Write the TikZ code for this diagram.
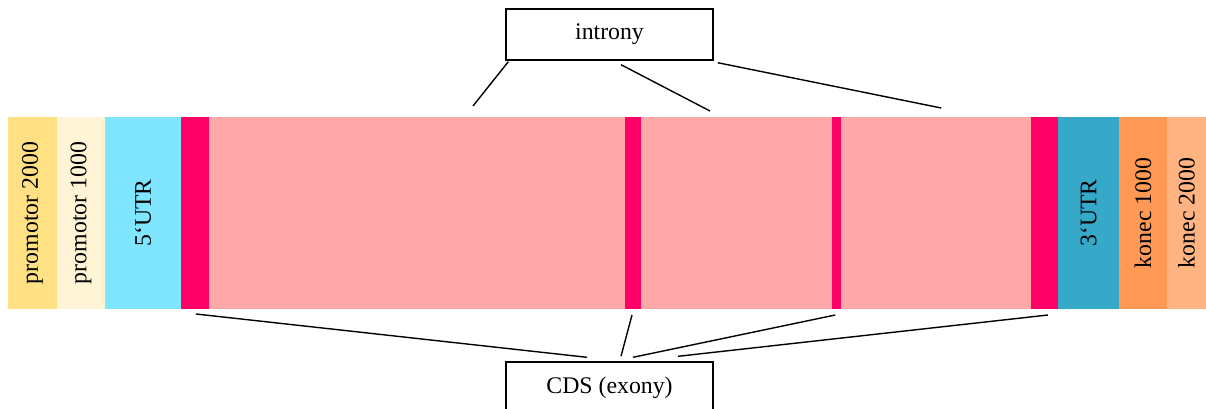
\documentclass[tikz,border=0pt]{standalone}
\usepackage{graphicx}
\usepackage{fontspec}
\setmainfont{Liberation Serif}
\definecolor{promA}{HTML}{FFE082}
\definecolor{promB}{HTML}{FFF5D6}
\definecolor{utrA}{HTML}{80E5FF}
\definecolor{exonc}{HTML}{FF0066}
\definecolor{intronc}{HTML}{FFA8AA}
\definecolor{utrB}{HTML}{37A9C8}
\definecolor{konA}{HTML}{FF9955}
\definecolor{konB}{HTML}{FFB380}
\begin{document}
\begin{tikzpicture}[x=1pt,y=-1pt,
  seg/.style={rectangle, inner sep=0pt, outer sep=0pt, minimum height=192pt, anchor=west, font=\fontsize{23.8}{28}\selectfont},
  labbox/.style={rectangle, draw=black, fill=white, line width=1.4pt, inner sep=0pt, minimum width=207pt, minimum height=51pt, font=\fontsize{23.8}{28}\selectfont},
  conn/.style={draw=black, line width=1.4pt}]
\useasboundingbox (0,0) rectangle (1206,409);
\node[seg, fill=promA, minimum width=49pt] (p2) at (8,213) {\rotatebox{90}{promotor 2000}};
\node[seg, fill=promB, minimum width=48pt] (p1) at (p2.east) {\rotatebox{90}{promotor 1000}};
\node[seg, fill=utrA, minimum width=76pt] (u5) at (p1.east) {\rotatebox{90}{5‘UTR}};
\node[seg, fill=exonc, minimum width=28pt] (e1) at (u5.east) {};
\node[seg, fill=intronc, minimum width=416pt] (i1) at (e1.east) {};
\node[seg, fill=exonc, minimum width=16pt] (e2) at (i1.east) {};
\node[seg, fill=intronc, minimum width=191pt] (i2) at (e2.east) {};
\node[seg, fill=exonc, minimum width=8.5pt] (e3) at (i2.east) {};
\node[seg, fill=intronc, minimum width=190.5pt] (i3) at (e3.east) {};
\node[seg, fill=exonc, minimum width=27pt] (e4) at (i3.east) {};
\node[seg, fill=utrB, minimum width=61pt] (u3) at (e4.east) {\rotatebox{90}{3‘UTR}};
\node[seg, fill=konA, minimum width=48pt] (k1) at (u3.east) {\rotatebox{90}{konec 1000}};
\node[seg, fill=konB, minimum width=39pt] (k2) at (k1.east) {\rotatebox{90}{konec 2000}};

\node[labbox] (introny) at (609.5,34.5) {introny};
\node[labbox] (cds) at (609.5,387.5) {CDS (exony)};

\draw[conn] ([xshift=3pt,yshift=-1pt]introny.south west) -- ([xshift=56pt,yshift=11pt]i1.north);
\draw[conn] ([xshift=11.5pt,yshift=-4pt]introny.south) -- ([xshift=-26.5pt,yshift=6pt]i2.north);
\draw[conn] ([xshift=4pt,yshift=-2pt]introny.south east) -- ([xshift=5.5pt,yshift=9pt]i3.north);

\draw[conn] ([xshift=1pt,yshift=-5pt]e1.south) -- ([xshift=-22.5pt,yshift=4pt]cds.north);
\draw[conn] ([xshift=-1pt,yshift=-6pt]e2.south) -- ([xshift=11.5pt,yshift=5pt]cds.north);
\draw[conn] ([xshift=-1pt,yshift=-6pt]e3.south) -- ([xshift=23.5pt,yshift=4pt]cds.north);
\draw[conn] ([xshift=3.5pt,yshift=-6pt]e4.south) -- ([xshift=68.5pt,yshift=5pt]cds.north);
\end{tikzpicture}
\end{document}
